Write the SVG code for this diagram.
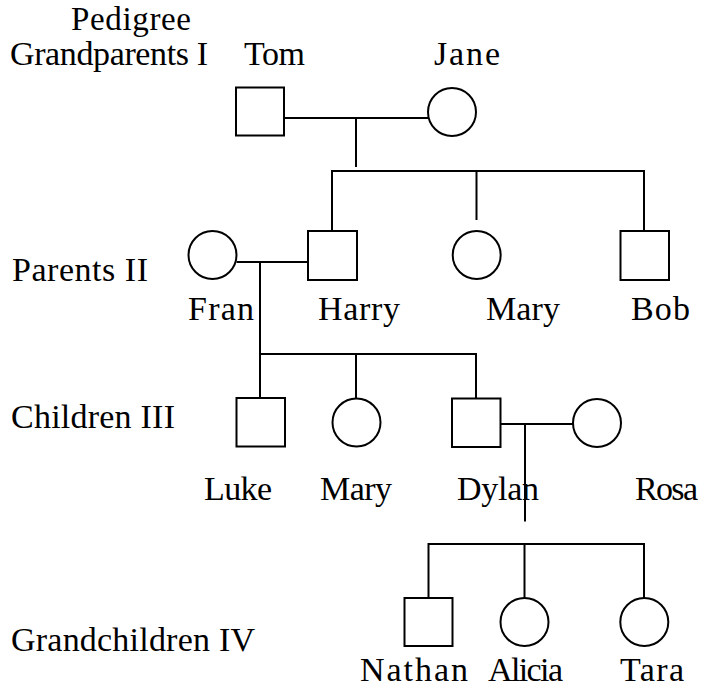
<svg xmlns="http://www.w3.org/2000/svg" width="707" height="690" viewBox="0 0 707 690">
<style>
  .s { fill: #fff; stroke: #000; stroke-width: 2; }
  .c line { stroke: #000; stroke-width: 2; }
  text { font-family: "Liberation Serif", "Times New Roman", serif; font-size: 34px; fill: #000; }
</style>
<rect width="707" height="690" fill="#fff"/>
<g id="labels">
  <text x="71" y="29.5" textLength="120" style="font-size:33px">Pedigree</text>
  <text x="10" y="65" textLength="198">Grandparents I</text>
  <text x="12" y="281" textLength="136">Parents II</text>
  <text x="11" y="428" textLength="164">Children III</text>
  <text x="11" y="651" textLength="244">Grandchildren IV</text>
</g>
<g class="c" id="connectors">
  <line x1="284" y1="118" x2="428" y2="118"/>
  <line x1="356" y1="118" x2="356" y2="167"/>
  <line x1="332" y1="171" x2="644" y2="171"/>
  <line x1="332" y1="170" x2="332" y2="231"/>
  <line x1="476.5" y1="170" x2="476.5" y2="220"/>
  <line x1="644" y1="170" x2="644" y2="231"/>
  <line x1="236.5" y1="262" x2="308" y2="262"/>
  <line x1="260" y1="262" x2="260" y2="355"/>
  <line x1="259" y1="354" x2="477" y2="354"/>
  <line x1="260" y1="354" x2="260" y2="398"/>
  <line x1="356" y1="354" x2="356" y2="398"/>
  <line x1="476" y1="353" x2="476" y2="398.5"/>
  <line x1="500.5" y1="424" x2="573" y2="424"/>
  <line x1="525" y1="424" x2="525" y2="521.5"/>
  <line x1="428.5" y1="544" x2="644" y2="544"/>
  <line x1="428.5" y1="543" x2="428.5" y2="598"/>
  <line x1="524.5" y1="544" x2="524.5" y2="598"/>
  <line x1="644" y1="543" x2="644" y2="598"/>
</g>
<g id="tom"><rect class="s" x="236" y="87.5" width="48" height="48"/><text x="244" y="65" textLength="61">Tom</text></g>
<g id="jane"><circle class="s" cx="452" cy="112" r="24"/><text x="434" y="65" textLength="66">Jane</text></g>
<g id="fran"><circle class="s" cx="212.5" cy="255" r="24"/><text x="188" y="320" textLength="66">Fran</text></g>
<g id="harry"><rect class="s" x="308" y="231" width="49" height="49"/><text x="318" y="320" textLength="82">Harry</text></g>
<g id="mary2"><circle class="s" cx="476.7" cy="255" r="24"/><text x="486" y="320" textLength="74">Mary</text></g>
<g id="bob"><rect class="s" x="620.5" y="231" width="48.5" height="49"/><text x="631" y="320" textLength="59">Bob</text></g>
<g id="luke"><rect class="s" x="236.5" y="398" width="48.5" height="48.5"/><text x="204" y="500" textLength="68">Luke</text></g>
<g id="mary3"><circle class="s" cx="356.5" cy="422.5" r="24"/><text x="320" y="500" textLength="72">Mary</text></g>
<g id="dylan"><rect class="s" x="452" y="398.5" width="48.5" height="48.5"/><text x="457" y="500" textLength="82">Dylan</text></g>
<g id="rosa"><circle class="s" cx="597" cy="423" r="24"/><text x="635" y="500" textLength="63">Rosa</text></g>
<g id="nathan"><rect class="s" x="404.5" y="598" width="48" height="48"/><text x="360" y="681" textLength="108">Nathan</text></g>
<g id="alicia"><circle class="s" cx="524.5" cy="622" r="24"/><text x="488" y="681" textLength="75">Alicia</text></g>
<g id="tara"><circle class="s" cx="644.3" cy="622" r="24"/><text x="620" y="681" textLength="64">Tara</text></g>
</svg>
